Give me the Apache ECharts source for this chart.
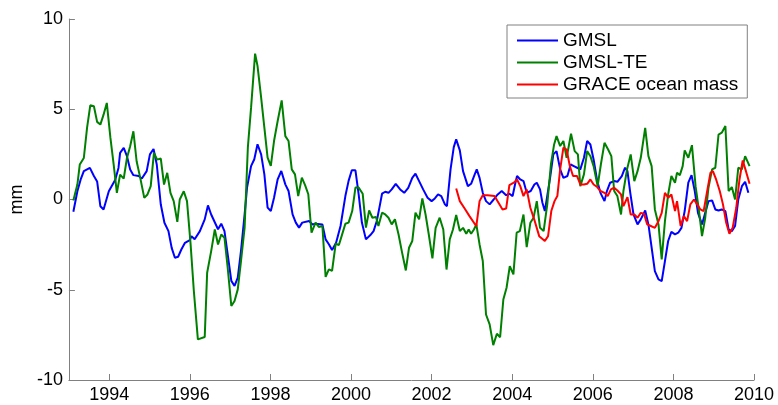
<!DOCTYPE html>
<html><head><meta charset="utf-8">
<script src="https://cdn.jsdelivr.net/npm/echarts@6/dist/echarts.min.js"></script>
<style>html,body{margin:0;padding:0;background:#fff}#c{width:778px;height:405px}</style>
</head><body><div id="c"></div>
<script>
const xTicks = [1994, 1996, 1998, 2000, 2002, 2004, 2006, 2008, 2010];
const seriesNames = ['GMSL', 'GMSL-TE', 'GRACE ocean mass'];

const gmsl = [
[1993.11,-0.68],[1993.21,0.46],[1993.29,1.10],[1993.37,1.57],[1993.52,1.75],[1993.62,1.30],[1993.70,1.00],[1993.78,-0.37],[1993.86,-0.55],[1993.99,0.46],
[1994.15,1.10],[1994.23,1.75],[1994.27,2.58],[1994.36,2.86],[1994.44,2.40],[1994.52,1.66],[1994.60,1.35],[1994.73,1.30],[1994.81,1.16],[1994.93,1.57],
[1995.01,2.50],[1995.10,2.80],[1995.18,1.94],[1995.28,-0.28],[1995.37,-1.29],[1995.47,-1.75],[1995.55,-2.68],[1995.63,-3.23],[1995.71,-3.17],[1995.79,-2.77],[1995.88,-2.40],
[1996.00,-2.25],[1996.04,-2.03],[1996.12,-2.20],[1996.25,-1.75],[1996.37,-1.10],[1996.45,-0.33],[1996.53,-0.83],
[1996.70,-1.65],[1996.78,-1.34],[1996.86,-1.75],[1996.94,-3.04],[1997.03,-4.51],[1997.11,-4.79],[1997.19,-4.33],[1997.27,-2.85],[1997.36,-0.82],[1997.42,0.66],[1997.52,1.85],[1997.60,2.23],[1997.68,3.06],[1997.77,2.50],[1997.85,1.39],[1997.93,-0.45],
[1998.01,-0.64],[1998.09,0.10],[1998.18,1.12],[1998.27,1.58],[1998.37,0.84],[1998.45,0.47],[1998.55,-0.82],[1998.63,-1.28],[1998.71,-1.56],[1998.79,-1.28],[1998.96,-1.19],
[1999.04,-1.38],[1999.12,-1.34],[1999.29,-1.38],[1999.37,-2.21],[1999.45,-2.48],[1999.53,-2.80],[1999.63,-2.39],[1999.74,-1.47],[1999.86,0.19],[1999.94,1.03],
[2000.02,1.62],[2000.11,1.62],[2000.19,0.29],[2000.27,-1.28],[2000.37,-2.21],[2000.48,-1.97],[2000.56,-1.75],[2000.64,-1.19],[2000.72,-0.27],
[2000.77,0.32],[2000.85,0.43],[2000.93,0.37],[2001.01,0.56],[2001.11,0.87],[2001.22,0.56],[2001.32,0.37],[2001.42,0.65],[2001.52,1.20],[2001.60,1.43],[2001.69,1.02],[2001.79,0.56],[2001.90,0.10],
[2002.00,-0.09],[2002.08,0.06],[2002.16,0.28],[2002.24,0.19],[2002.33,-0.27],[2002.38,-0.37],[2002.47,1.67],[2002.55,2.90],[2002.61,3.33],[2002.70,2.72],[2002.78,1.57],[2002.90,0.74],[2002.98,0.87],
[2003.07,1.39],[2003.12,1.67],[2003.19,1.20],[2003.27,0.37],[2003.35,-0.09],[2003.44,-0.27],[2003.54,0.00],[2003.64,0.28],[2003.74,0.47],[2003.85,0.24],[2003.93,0.32],
[2004.01,0.19],[2004.07,0.83],[2004.12,1.30],[2004.20,1.11],[2004.28,1.02],[2004.36,0.37],[2004.46,0.47],[2004.55,0.83],[2004.61,0.93],[2004.69,0.56],[2004.75,-0.18],[2004.81,-0.64],
[2004.94,1.20],[2005.02,2.50],[2005.10,2.68],[2005.19,1.67],[2005.27,1.20],[2005.37,1.30],[2005.45,1.94],[2005.53,1.85],[2005.61,1.76],[2005.69,1.67],[2005.78,2.31],[2005.86,3.24],[2005.94,3.05],
[2006.02,2.22],[2006.11,1.02],[2006.19,0.37],[2006.29,-0.09],[2006.35,0.47],[2006.43,0.93],[2006.53,1.02],[2006.61,0.98],[2006.72,1.30],[2006.80,1.76],[2006.86,1.57],[2006.93,0.37],
[2007.01,-0.83],[2007.11,-1.38],[2007.19,-1.10],[2007.30,-0.61],[2007.38,-1.38],[2007.46,-2.67],[2007.54,-3.97],[2007.63,-4.43],[2007.71,-4.52],[2007.79,-3.41],[2007.87,-2.30],[2007.95,-1.79],
[2008.04,-1.93],[2008.12,-1.84],[2008.20,-1.57],[2008.28,-0.64],[2008.37,0.93],[2008.45,1.35],[2008.53,0.47],[2008.61,-0.74],[2008.71,-1.38],[2008.79,-0.74],[2008.87,-0.09],[2008.96,-0.05],
[2009.04,-0.55],[2009.12,-0.61],[2009.20,-0.55],[2009.29,-0.64],[2009.37,-1.66],[2009.45,-1.75],[2009.53,-1.47],[2009.61,0.00],[2009.70,0.74],[2009.78,0.98],[2009.86,0.37]
];

const gmslTE = [
[1993.11,-0.05],[1993.21,0.83],[1993.27,1.94],[1993.37,2.30],[1993.45,3.97],[1993.53,5.22],[1993.62,5.17],[1993.70,4.30],[1993.78,4.15],[1993.86,4.70],[1993.94,5.35],
[1994.03,3.41],[1994.11,1.94],[1994.19,0.37],[1994.27,1.38],[1994.36,1.16],[1994.44,2.30],[1994.52,2.95],[1994.60,3.78],[1994.68,2.12],[1994.77,1.20],[1994.87,0.09],[1994.95,0.28],
[1995.03,0.74],[1995.11,2.58],[1995.19,2.21],[1995.28,2.27],[1995.36,0.83],[1995.44,1.48],[1995.52,0.37],[1995.60,-0.09],[1995.69,-1.24],[1995.75,0.00],[1995.85,0.46],[1995.93,-0.09],
[1996.02,-2.49],[1996.10,-5.07],[1996.20,-7.75],[1996.37,-7.62],[1996.43,-4.06],[1996.53,-2.86],[1996.62,-1.66],[1996.70,-2.49],[1996.78,-1.94],[1996.86,-2.12],
[1996.94,-3.78],[1997.03,-5.90],[1997.11,-5.62],[1997.19,-4.98],[1997.27,-3.42],[1997.36,-1.56],[1997.44,2.87],[1997.52,5.09],[1997.62,8.08],[1997.68,7.40],[1997.77,5.64],[1997.85,3.98],[1997.93,2.32],
[1998.01,1.86],[1998.09,3.24],[1998.18,4.35],[1998.28,5.49],[1998.37,3.51],[1998.45,3.24],[1998.53,1.67],[1998.61,1.39],[1998.69,0.19],[1998.78,1.21],[1998.86,0.80],[1998.94,0.29],
[1999.02,-1.84],[1999.12,-1.28],[1999.20,-1.52],[1999.29,-1.47],[1999.37,-4.29],[1999.45,-3.87],[1999.53,-3.96],[1999.62,-2.45],[1999.70,-2.52],[1999.78,-1.93],[1999.86,-1.34],[1999.94,-1.28],
[2000.03,-0.64],[2000.11,0.66],[2000.19,0.66],[2000.29,0.32],[2000.37,-1.56],[2000.45,-0.60],[2000.53,-1.01],[2000.62,-0.97],[2000.68,-1.47],
[2000.77,-0.73],[2000.85,-0.83],[2000.93,-1.01],[2001.01,-1.38],[2001.09,-1.10],[2001.18,-1.94],[2001.26,-2.86],[2001.36,-3.93],[2001.44,-2.67],[2001.52,-2.30],[2001.60,-0.73],[2001.69,-1.10],[2001.77,0.06],[2001.85,-0.83],[2001.93,-1.94],
[2002.02,-3.26],[2002.10,-1.57],[2002.20,-1.01],[2002.29,-1.66],[2002.37,-3.88],[2002.45,-2.21],[2002.53,-1.66],[2002.61,-0.86],[2002.70,-1.75],[2002.78,-1.57],[2002.86,-1.90],[2002.92,-1.66],[2002.98,-1.90],
[2003.05,-1.66],[2003.11,-1.38],[2003.19,-2.49],[2003.27,-3.41],[2003.35,-6.37],[2003.44,-6.92],[2003.53,-8.07],[2003.62,-7.44],[2003.70,-7.63],[2003.78,-5.54],[2003.86,-4.89],[2003.94,-3.69],
[2004.03,-4.15],[2004.11,-1.84],[2004.19,-1.75],[2004.28,-0.83],[2004.36,-2.64],[2004.45,-1.29],[2004.53,-1.01],[2004.61,-0.09],[2004.69,-1.57],[2004.78,-1.75],
[2004.87,-0.27],[2004.96,1.94],[2005.04,3.05],[2005.10,3.51],[2005.19,2.96],[2005.27,3.24],[2005.35,2.31],[2005.46,3.64],[2005.55,2.68],[2005.63,2.50],[2005.69,0.74],[2005.78,1.39],[2005.86,2.68],[2005.94,2.40],
[2006.02,1.85],[2006.12,0.74],[2006.20,1.94],[2006.29,3.14],[2006.38,2.77],[2006.46,2.40],[2006.53,0.47],[2006.61,0.19],[2006.70,-0.83],[2006.76,0.47],[2006.85,1.67],[2006.94,2.50],
[2007.03,1.02],[2007.11,1.57],[2007.19,2.31],[2007.30,3.97],[2007.38,2.40],[2007.46,1.85],[2007.54,-0.55],[2007.63,-1.38],[2007.71,-3.32],[2007.79,-1.20],[2007.87,0.28],[2007.95,1.30],
[2008.04,0.93],[2008.09,1.48],[2008.16,1.35],[2008.23,1.85],[2008.28,2.72],[2008.37,2.31],[2008.46,3.01],[2008.55,0.74],[2008.63,-0.55],[2008.71,-2.03],[2008.79,-1.01],[2008.87,0.65],[2008.96,1.67],
[2009.04,1.76],[2009.12,3.60],[2009.20,3.70],[2009.29,4.07],[2009.37,0.47],[2009.45,0.69],[2009.53,0.00],[2009.61,1.76],[2009.70,1.67],[2009.78,2.40],[2009.89,1.85]
];

const grace = [
[2002.61,0.61],[2002.70,-0.09],[2002.82,-0.50],[2002.94,-0.92],[2003.11,-1.48],[2003.19,-0.09],[2003.27,0.23],[2003.39,0.24],[2003.56,0.19],[2003.66,-0.18],[2003.76,-0.55],[2003.85,-0.50],[2003.93,0.80],
[2004.04,0.93],[2004.12,1.11],[2004.20,0.74],[2004.28,0.19],[2004.36,0.56],[2004.45,-0.46],[2004.56,-1.20],[2004.67,-2.03],[2004.81,-2.30],[2004.89,-2.03],[2004.97,-0.64],
[2005.05,-0.09],[2005.12,0.19],[2005.19,1.67],[2005.27,2.87],[2005.35,2.77],[2005.43,1.85],[2005.51,1.30],[2005.61,1.30],[2005.69,0.83],[2005.78,0.83],[2005.86,0.87],[2005.94,1.11],
[2006.02,0.83],[2006.11,0.69],[2006.19,0.47],[2006.29,0.37],[2006.37,0.19],[2006.45,0.56],[2006.53,0.65],[2006.61,0.50],[2006.70,0.28],[2006.76,-0.37],[2006.86,0.13],[2006.94,-0.83],
[2007.03,-0.83],[2007.11,-1.01],[2007.19,-0.74],[2007.27,-0.79],[2007.35,-1.38],[2007.44,-1.47],[2007.54,-1.57],[2007.63,-1.20],[2007.71,-0.74],[2007.79,0.37],[2007.87,0.10],[2007.95,0.28],
[2008.04,-0.64],[2008.09,-0.09],[2008.18,-1.47],[2008.26,-0.92],[2008.34,-1.20],[2008.42,-0.27],[2008.51,0.00],[2008.59,-0.27],[2008.67,-0.55],[2008.75,-0.64],[2008.83,0.37],[2008.92,1.48],[2008.98,1.57],
[2009.06,1.11],[2009.15,0.47],[2009.23,-0.27],[2009.31,-1.29],[2009.39,-1.90],[2009.47,-1.57],[2009.56,-0.46],[2009.64,1.11],[2009.72,2.16],[2009.80,1.57],[2009.89,0.87]
];

const colors = ['#0000ff', '#008000', '#ff0000'];
const dataSets = [gmsl, gmslTE, grace];
const axisGray = '#808080';
const font = "'Liberation Sans', Arial, sans-serif";

const chart = echarts.init(document.getElementById('c'));
chart.setOption({
  animation: false,
  backgroundColor: '#ffffff',
  textStyle: { fontFamily: font },
  grid: { left: 65, right: 24, top: 19, bottom: 25 },
  legend: {
    orient: 'vertical', left: 507, top: 25,
    padding: [6, 9, 4, 10], itemGap: 3, itemWidth: 41, itemHeight: 2,
    icon: 'rect', backgroundColor: '#ffffff', borderColor: axisGray, borderWidth: 1,
    textStyle: { fontSize: 19, color: '#000', fontFamily: font },
    data: seriesNames
  },
  xAxis: {
    type: 'value', min: 1993, max: 2010,
    axisLine: { show: true, onZero: false, lineStyle: { color: axisGray, width: 1 } },
    axisTick: { show: true, inside: true, length: 6, customValues: xTicks, lineStyle: { color: axisGray } },
    axisLabel: { customValues: xTicks, fontSize: 18, color: '#000', margin: 6, fontFamily: font,
                 formatter: v => String(Math.round(v)) },
    splitLine: { show: false }
  },
  yAxis: {
    type: 'value', min: -10, max: 10, interval: 5,
    name: 'mm', nameLocation: 'middle', nameGap: 32,
    nameTextStyle: { fontSize: 18, color: '#000', fontFamily: font },
    axisLine: { show: true, lineStyle: { color: axisGray, width: 1 } },
    axisTick: { show: true, inside: true, length: 6, lineStyle: { color: axisGray } },
    axisLabel: { fontSize: 18, color: '#000', margin: 6, fontFamily: font },
    splitLine: { show: false }
  },
  series: seriesNames.map((n, i) => ({
    name: n, type: 'line', data: dataSets[i],
    symbol: 'none', showSymbol: false, smooth: false,
    color: colors[i],
    lineStyle: { color: colors[i], width: 2 },
    z: 2 + i
  }))
});
</script></body></html>
